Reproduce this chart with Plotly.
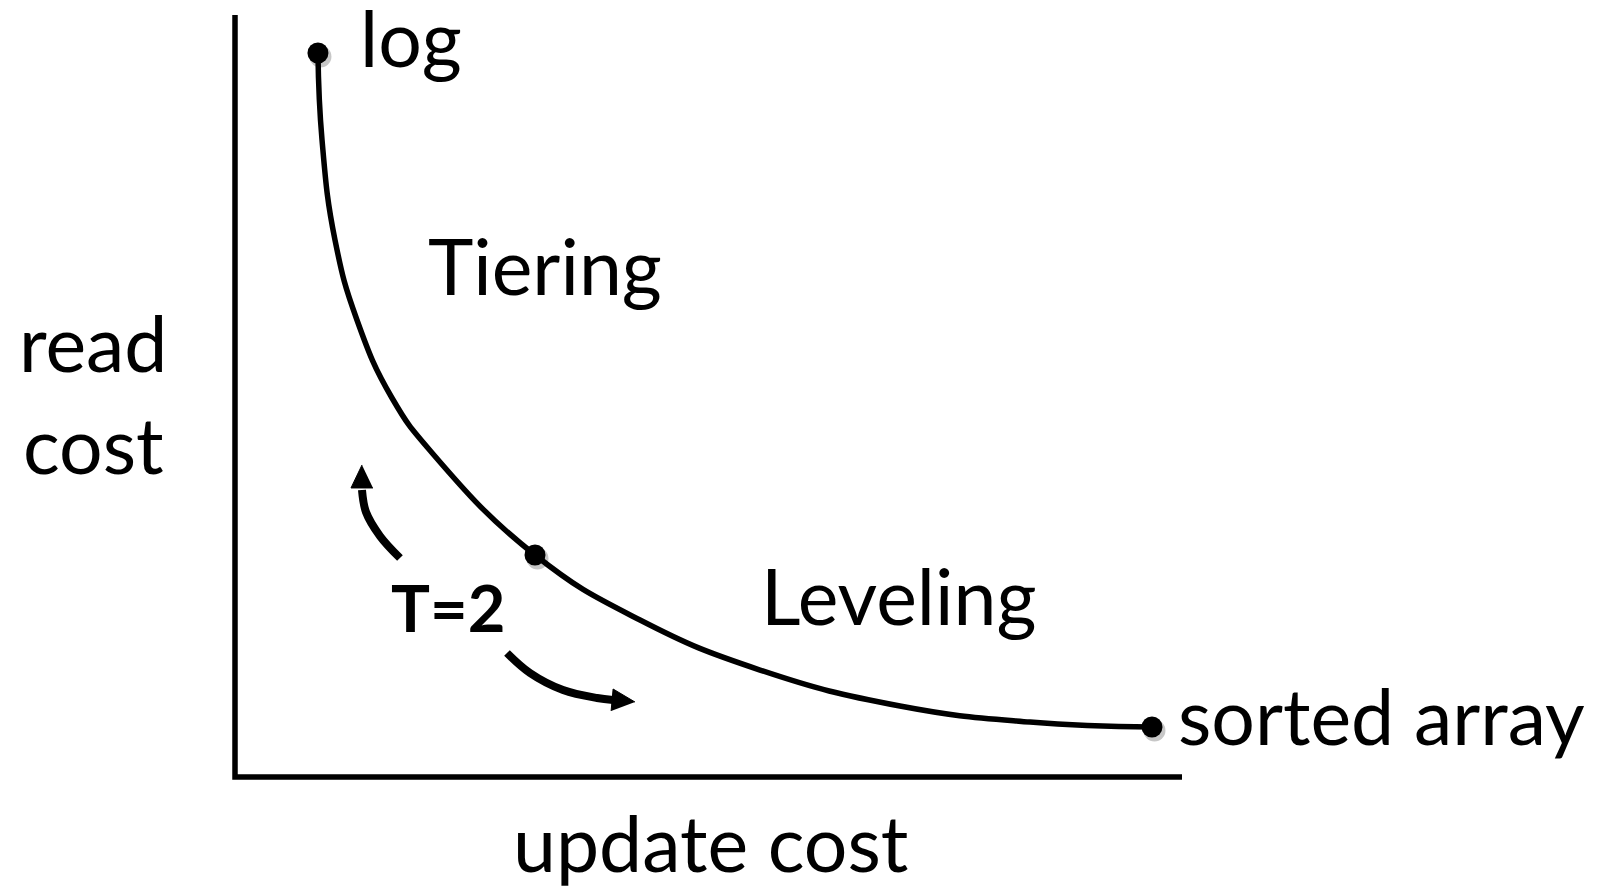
import math
import plotly.graph_objects as go

# Read cost vs update cost trade-off curve (arbitrary cost units)
curve_update = [0.876, 0.919, 1.056, 1.288, 1.658, 2.091, 3.168,
                4.277, 5.544, 7.022, 8.395, 9.683]
curve_read = [7.601, 6.688, 5.638, 4.798, 3.979, 3.391, 2.331,
              1.648, 1.123, 0.745, 0.577, 0.525]

# Highlighted designs on the curve: log, T=2, sorted array
dot_index = [0, 6, 11]

# Curved arrows around T=2 (last point is the arrow tip)
arrow_up_x = [1.742, 1.531, 1.383, 1.341, 1.341]
arrow_up_y = [2.299, 2.530, 2.782, 3.013, 3.276]
arrow_down_x = [2.872, 3.115, 3.464, 3.823, 3.992, 4.224]
arrow_down_y = [1.302, 1.092, 0.913, 0.829, 0.808, 0.787]

# Text labels: (text, x, y, xanchor, size, bold) in cost units
labels = [
    ("log", 1.299, 7.767, "left", 77, False),
    ("Tiering", 2.017, 5.373, "left", 77, False),
    ("Leveling", 5.533, 1.909, "left", 77, False),
    ("sorted array", 9.937, 0.649, "left", 77, False),
    ("read", -1.489, 4.565, "center", 77, False),
    ("cost", -1.489, 3.494, "center", 77, False),
    ("update cost", 5.016, -0.685, "center", 77, False),
    ("T=2", 2.254, 1.787, "center", 65, True),
]

X_MAX, Y_MAX = 10, 8
PLOT_W, PLOT_H = 947, 762
FONT = "Lato"
HEAD_LEN, HEAD_W = 23, 22  # arrowhead size in pixels

px_x = PLOT_W / X_MAX
px_y = PLOT_H / Y_MAX

fig = go.Figure()

# trade-off curve
fig.add_trace(go.Scatter(
    x=curve_update, y=curve_read, mode="lines",
    line=dict(color="black", width=5.5, shape="spline", smoothing=1.3),
    hoverinfo="skip", showlegend=False,
))

dot_x = [curve_update[i] for i in dot_index]
dot_y = [curve_read[i] for i in dot_index]

# soft drop shadow under the dots
fig.add_trace(go.Scatter(
    x=[v + 2.5 / px_x for v in dot_x], y=[v - 3.5 / px_y for v in dot_y],
    mode="markers",
    marker=dict(size=22, color="rgba(0,0,0,0.22)", line=dict(width=0)),
    hoverinfo="skip", showlegend=False,
))
fig.add_trace(go.Scatter(
    x=dot_x, y=dot_y, mode="markers",
    marker=dict(size=21, color="black", line=dict(width=0)),
    hoverinfo="skip", showlegend=False,
))


def arrow_head(xs, ys):
    """Triangle whose apex is the last point, aligned with the last segment."""
    tx, ty = xs[-1] * px_x, ys[-1] * px_y
    bx, by = xs[-2] * px_x, ys[-2] * px_y
    dx, dy = tx - bx, ty - by
    n = math.hypot(dx, dy)
    ux, uy = dx / n, dy / n
    cx, cy = tx - HEAD_LEN * ux, ty - HEAD_LEN * uy
    px_, py_ = -uy, ux
    pts = [(tx, ty),
           (cx + px_ * HEAD_W / 2, cy + py_ * HEAD_W / 2),
           (cx - px_ * HEAD_W / 2, cy - py_ * HEAD_W / 2)]
    return [p[0] / px_x for p in pts], [p[1] / px_y for p in pts]


# curved arrows: spline shaft plus filled head
for ax_, ay_ in [(arrow_up_x, arrow_up_y), (arrow_down_x, arrow_down_y)]:
    fig.add_trace(go.Scatter(
        x=ax_[:-1], y=ay_[:-1], mode="lines",
        line=dict(color="black", width=8, shape="spline"),
        hoverinfo="skip", showlegend=False,
    ))
    hx, hy = arrow_head(ax_, ay_)
    fig.add_trace(go.Scatter(
        x=hx, y=hy, mode="lines", fill="toself", fillcolor="black",
        line=dict(color="black", width=1),
        hoverinfo="skip", showlegend=False,
    ))

# axes drawn as a single L-shaped path along the plot edges
fig.add_shape(type="path", xref="paper", yref="paper",
              path="M 0,1 L 0,0 L 1,0",
              line=dict(color="black", width=5.5))

for text, x, y, xa, size, bold in labels:
    fig.add_annotation(
        x=x / X_MAX, y=y / Y_MAX, xref="paper", yref="paper",
        text=f"<b>{text}</b>" if bold else text,
        showarrow=False, xanchor=xa, yanchor="middle",
        font=dict(family=FONT, size=size, color="black"),
    )

fig.update_layout(
    width=1600, height=890,
    margin=dict(l=235, r=1600 - 235 - PLOT_W, t=15, b=890 - 15 - PLOT_H),
    paper_bgcolor="white", plot_bgcolor="white",
    xaxis=dict(range=[0, X_MAX], visible=False, fixedrange=True),
    yaxis=dict(range=[0, Y_MAX], visible=False, fixedrange=True),
    showlegend=False,
)

fig.write_html("out.html")
